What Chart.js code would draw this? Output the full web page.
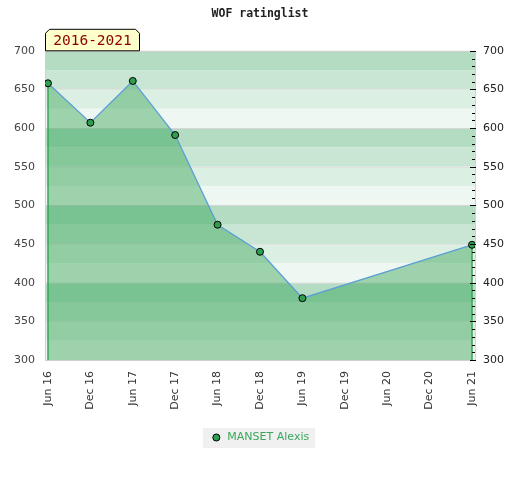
<!DOCTYPE html>
<html>
<head>
<meta charset="utf-8">
<script src="https://cdn.jsdelivr.net/npm/chart.js@4/dist/chart.umd.min.js"></script>
<style>
  html, body { margin: 0; padding: 0; background: #fff; }
  #wrap { width: 520px; height: 480px; }
</style>
</head>
<body>
<div id="wrap"><canvas id="myChart" width="520" height="480"></canvas></div>
<script>
const monthLabels = ['Jun 16', 'Dec 16', 'Jun 17', 'Dec 17', 'Jun 18', 'Dec 18', 'Jun 19', 'Dec 19', 'Jun 20', 'Dec 20', 'Jun 21'];
const ratings = [658, 607, 661, 591, 475, 440, 380, null, null, null, 449];
const playerName = 'MANSET Alexis';
const periodLabel = '2016-2021';
const yMin = 300;
const yMax = 700;

const bandColors = ['#b3dcc3', '#c8e6d3', '#dcefe3', '#eef7f1'];

// bands, grid, border and side edges of the filled area
const backdrop = {
  id: 'backdrop',
  beforeDatasetsDraw(chart) {
    const { ctx, chartArea: a, scales } = chart;
    const y = scales.y;
    ctx.save();
    for (let v = yMax; v > yMin; v -= 25) {
      const top = y.getPixelForValue(v);
      const bot = y.getPixelForValue(v - 25);
      ctx.fillStyle = bandColors[((yMax - v) / 25) % 4];
      ctx.fillRect(a.left, top, a.right - a.left, bot - top);
    }
    ctx.lineWidth = 1;
    for (let v = yMin + 50; v < yMax; v += 50) {
      const py = Math.round(y.getPixelForValue(v)) + 0.5;
      ctx.strokeStyle = v % 100 === 0 ? '#d6d6d6' : '#e2e2e2';
      ctx.beginPath();
      ctx.moveTo(a.left, py);
      ctx.lineTo(a.right, py);
      ctx.stroke();
    }
    ctx.strokeStyle = '#d0d0d0';
    ctx.strokeRect(Math.round(a.left) + 0.5, Math.round(a.top) + 0.5, Math.round(a.right - a.left), Math.round(a.bottom - a.top));

    // green edges where the area starts and ends
    const pts = chart.getDatasetMeta(0).data;
    const bottom = y.getPixelForValue(yMin);
    ctx.strokeStyle = '#3aaa5a';
    ctx.lineWidth = 1.5;
    [pts[0], pts[pts.length - 1]].forEach(p => {
      ctx.beginPath();
      ctx.moveTo(p.x, p.y);
      ctx.lineTo(p.x, bottom);
      ctx.stroke();
    });
    ctx.restore();
  },
  afterDraw(chart) {
    const { ctx, chartArea: a, scales } = chart;
    const y2 = scales.y2;
    ctx.save();
    // minor ticks on the right axis
    ctx.strokeStyle = '#000';
    ctx.lineWidth = 1;
    for (let v = yMin; v <= yMax; v += 10) {
      const py = Math.round(y2.getPixelForValue(v)) + 0.5;
      const major = v % 50 === 0;
      ctx.beginPath();
      ctx.moveTo(a.right - (major ? 5 : 3), py);
      ctx.lineTo(a.right + (major ? 1 : 0), py);
      ctx.stroke();
    }

    // period label box
    const bx = a.left, by = a.top - 22, bw = 95, bh = 22, c = 4;
    ctx.beginPath();
    ctx.moveTo(bx + 0.5, by + bh);
    ctx.lineTo(bx + 0.5, by + c + 0.5);
    ctx.lineTo(bx + c + 0.5, by + 0.5);
    ctx.lineTo(bx + bw - c - 0.5, by + 0.5);
    ctx.lineTo(bx + bw - 0.5, by + c + 0.5);
    ctx.lineTo(bx + bw - 0.5, by + bh);
    ctx.closePath();
    ctx.fillStyle = '#ffffcc';
    ctx.fill();
    ctx.strokeStyle = '#000';
    ctx.stroke();
    ctx.fillStyle = '#8b0000';
    ctx.font = '14.5px "DejaVu Sans Mono"';
    ctx.textAlign = 'center';
    ctx.textBaseline = 'middle';
    ctx.fillText(periodLabel, bx + bw / 2, by + bh / 2 + 1);
    ctx.restore();
  },
  beforeDraw(chart) {
    const lg = chart.legend;
    if (!lg || !lg.legendHitBoxes || !lg.legendHitBoxes.length) return;
    const h = lg.legendHitBoxes[0];
    const ctx = chart.ctx;
    ctx.save();
    ctx.fillStyle = '#f0f0f0';
    ctx.fillRect(h.left - 8, h.top - 4, h.width + 14, h.height + 9);
    ctx.restore();
  }
};

const points = ratings
  .map((v, i) => ({ x: i, y: v }))
  .filter(p => p.y !== null);

new Chart(document.getElementById('myChart'), {
  type: 'line',
  data: {
    datasets: [{
      label: playerName,
      data: points,
      borderColor: '#5b9fd6',
      borderWidth: 1.3,
      backgroundColor: 'rgba(34, 156, 70, 0.4)',
      fill: 'start',
      tension: 0,
      pointRadius: 3.5,
      pointBackgroundColor: '#2f9e50',
      pointBorderColor: '#000',
      pointBorderWidth: 1,
    }],
  },
  options: {
    responsive: false,
    animation: false,
    layout: { padding: { top: 0, bottom: 27 } },
    scales: {
      x: {
        type: 'linear',
        min: -0.07,
        max: monthLabels.length - 1 + 0.07,
        grid: { display: false, drawTicks: false },
        border: { display: false },
        ticks: {
          stepSize: 1,
          includeBounds: false,
          autoSkip: false,
          minRotation: 90,
          maxRotation: 90,
          padding: 11,
          color: '#333',
          font: { family: 'DejaVu Sans', size: 11 },
          callback: (v) => monthLabels[v] || '',
        },
        afterFit: (s) => { s.height = 52; },
      },
      y: {
        position: 'left',
        min: yMin,
        max: yMax,
        grid: { display: false, drawTicks: false },
        border: { display: false },
        ticks: { stepSize: 50, padding: 10, color: '#444', font: { family: 'DejaVu Sans', size: 11 } },
        afterFit: (s) => { s.width = 45; },
      },
      y2: {
        position: 'right',
        min: yMin,
        max: yMax,
        grid: { display: false, drawTicks: false },
        border: { display: false },
        ticks: { stepSize: 50, padding: 8, color: '#222', font: { family: 'DejaVu Sans', size: 11 } },
        afterFit: (s) => { s.width = 45; },
      },
    },
    plugins: {
      title: {
        display: true,
        text: 'WOF ratinglist',
        color: '#222',
        font: { family: 'DejaVu Sans Mono', size: 11.5, weight: 'bold' },
        padding: { top: 7, bottom: 30 },
      },
      legend: {
        position: 'bottom',
        labels: {
          usePointStyle: true,
          boxWidth: 11,
          boxHeight: 5,
          padding: 20,
          color: '#3aa85c',
          font: { family: 'DejaVu Sans', size: 11 },
        },
      },
      tooltip: { enabled: false },
    },
  },
  plugins: [backdrop],
});
</script>
</body>
</html>
